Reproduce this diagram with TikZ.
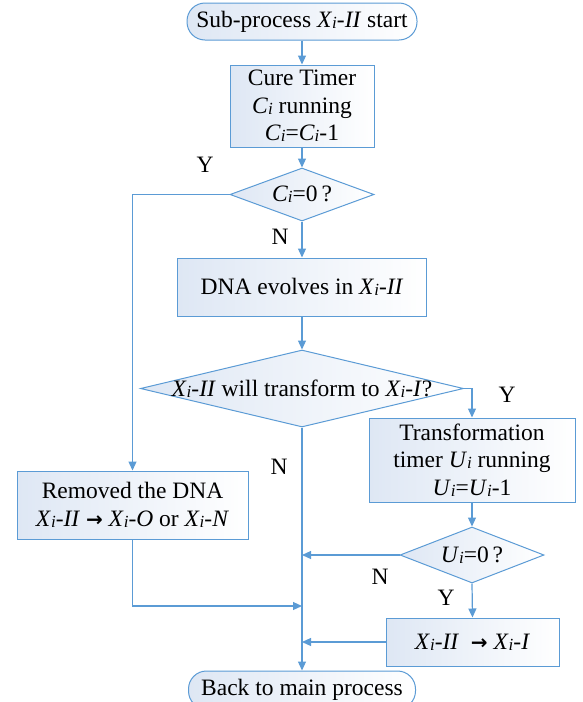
\documentclass[tikz,border=0pt]{standalone}
\usepackage{fontspec}
\setmainfont{Liberation Serif}
\newfontfamily\arrowfont{DejaVu Sans}
\usetikzlibrary{shapes.geometric,arrows.meta}
\definecolor{lineblue}{RGB}{91,155,213}
\definecolor{fillblue}{RGB}{222,231,244}
\newcommand\vv[2]{\textit{#1}\raisebox{-1pt}{\fontsize{17}{17}\selectfont\textit{#2}}}
\newcommand\rarr{{\arrowfont\bfseries\fontsize{20}{20}\selectfont →}}
\begin{document}
\begin{tikzpicture}[x=1pt,y=-1pt,
  every node/.style={font=\fontsize{23.5}{27.5}\selectfont},
  box/.style={draw=lineblue, line width=1pt, left color=fillblue, right color=white, inner sep=0pt, align=center},
  term/.style={box, rounded corners=18pt},
  dia/.style={draw=lineblue, line width=1pt, diamond, left color=fillblue, right color=white, inner sep=0pt},
  conn/.style={draw=lineblue, line width=1.2pt},
  arr/.style={conn, -{Triangle[length=9pt,width=8pt]}},
  lbl/.style={font=\fontsize{23.5}{23.5}\selectfont}
]
\useasboundingbox (0,0) rectangle (583,702);

\node[term, minimum width=230pt, minimum height=37pt] (start) at (302,21.5) {Sub-process \vv{X}{i}\textit{-II} start};
\node[box, minimum width=144pt, minimum height=82pt] (cure) at (302,106) {Cure Timer\\ \vv{C}{i} running\\ \vv{C}{i}=\vv{C}{i}-1};
\node[dia, minimum width=144pt, minimum height=53pt] (d1) at (302,194.5) {};
\node at (d1) {\vv{C}{i}=0\,?};
\node[box, minimum width=249pt, minimum height=58pt] (dna) at (302,287) {DNA evolves in \vv{X}{i}\textit{-II}};
\node[dia, minimum width=323pt, minimum height=77pt] (d2) at (302,388.5) {};
\node at (d2) {\vv{X}{i}\textit{-II} will transform to \vv{X}{i}\textit{-I}?};
\node[box, minimum width=206pt, minimum height=84pt] (trans) at (472,460) {Transformation\\ timer \vv{U}{i} running\\ \vv{U}{i}=\vv{U}{i}-1};
\node[box, minimum width=231pt, minimum height=68pt] (rem) at (132.5,505) {Removed the DNA\\ \vv{X}{i}\textit{-II} \rarr{} \vv{X}{i}\textit{-O} or \vv{X}{i}\textit{-N}};
\node[dia, minimum width=144pt, minimum height=56pt] (d3) at (472,555) {};
\node at (d3) {\vv{U}{i}=0\,?};
\node[box, minimum width=173pt, minimum height=48pt] (xb) at (472.5,642) {\vv{X}{i}\textit{-II}\ \ \rarr{} \vv{X}{i}\textit{-I}};
\node[term, minimum width=227pt, minimum height=38pt] (back) at (302,690) {Back to main process};

\coordinate (m1) at (302,555);
\coordinate (m2) at (302,606);
\coordinate (m3) at (302,642);

\draw[arr] (start) -- (cure);
\draw[arr] (cure) -- (d1);
\draw[arr] (d1.west) -| (rem.north);
\draw[arr] (d1.south) -- (dna.north);
\draw[arr] (dna) -- (d2);
\draw[arr] (d2.east) -| (trans.north);
\draw[arr] (d2.south) -- (back.north);
\draw[arr] (trans) -- (d3);
\draw[arr] (d3.west) -- (m1);
\draw[arr] (d3.south) -- (xb.north);
\draw[arr] (rem.south) |- (m2);
\draw[arr] (xb.west) -- (m3);

\node[lbl] at (205,165) {Y};
\node[lbl] at (280,237) {N};
\node[lbl] at (507,395) {Y};
\node[lbl] at (279,467) {N};
\node[lbl] at (380,577) {N};
\node[lbl] at (446,598) {Y};
\end{tikzpicture}
\end{document}
